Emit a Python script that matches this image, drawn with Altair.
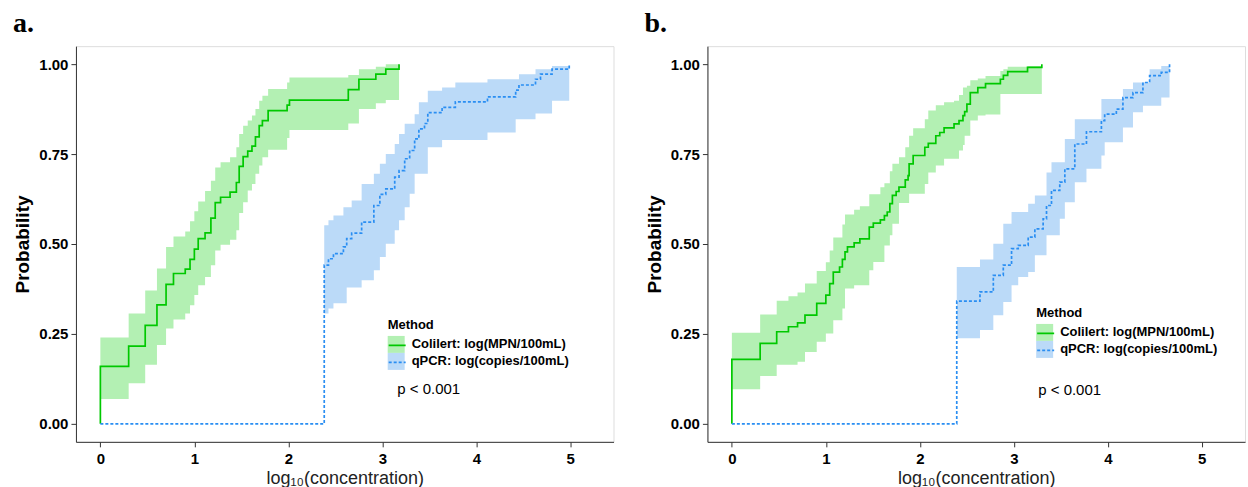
import altair as alt
import pandas as pd

M_COL = "Colilert: log(MPN/100mL)"
M_QPCR = "qPCR: log(copies/100mL)"

# ---------------- panel a ----------------
a_col_x = [0, 0.301, 0.477, 0.602, 0.699, 0.778, 0.903, 0.954, 1.0, 1.041, 1.114, 1.176, 1.222, 1.279, 1.38,
           1.447, 1.477, 1.519, 1.568, 1.613, 1.65, 1.69, 1.724, 1.785, 1.987, 2.012, 2.638, 2.751, 2.931, 3.037, 3.178]
a_col_est = [0.16, 0.216, 0.274, 0.331, 0.388, 0.418, 0.430, 0.457, 0.486, 0.515, 0.531, 0.572, 0.615, 0.630, 0.644,
             0.671, 0.716, 0.743, 0.758, 0.772, 0.798, 0.829, 0.843, 0.871, 0.886, 0.900, 0.929, 0.958, 0.972, 0.986, 1.0]
a_col_lo = [0.069, 0.113, 0.164, 0.219, 0.265, 0.290, 0.307, 0.330, 0.358, 0.385, 0.408, 0.441, 0.482, 0.498, 0.512,
            0.538, 0.586, 0.616, 0.649, 0.667, 0.695, 0.718, 0.741, 0.762, 0.795, 0.817, 0.835, 0.875, 0.891, 0.900, 0.900]
a_col_hi = [0.240, 0.307, 0.371, 0.432, 0.492, 0.521, 0.535, 0.563, 0.591, 0.618, 0.647, 0.676, 0.713, 0.727, 0.741,
            0.769, 0.806, 0.829, 0.843, 0.857, 0.875, 0.898, 0.912, 0.931, 0.949, 0.963, 0.970, 0.986, 0.993, 1.0, 1.0]

a_q_x = [2.382, 2.427, 2.480, 2.586, 2.621, 2.674, 2.780, 2.910, 2.974, 3.037, 3.132, 3.178, 3.238, 3.291, 3.344,
         3.389, 3.449, 3.484, 3.636, 3.777, 4.119, 4.419, 4.454, 4.630, 4.683, 4.806, 4.989]
a_q_est = [0.441, 0.459, 0.473, 0.492, 0.515, 0.530, 0.561, 0.607, 0.638, 0.653, 0.686, 0.704, 0.737, 0.760, 0.792,
           0.820, 0.835, 0.865, 0.880, 0.895, 0.909, 0.928, 0.942, 0.958, 0.972, 0.986, 1.0]
a_q_lo = [0.307, 0.321, 0.335, 0.335, 0.379, 0.379, 0.399, 0.427, 0.464, 0.501, 0.538, 0.566, 0.602, 0.640, 0.695,
          0.695, 0.695, 0.769, 0.789, 0.789, 0.810, 0.847, 0.847, 0.863, 0.863, 0.898, 0.898]
a_q_hi = [0.552, 0.566, 0.579, 0.602, 0.602, 0.621, 0.667, 0.695, 0.723, 0.750, 0.778, 0.806, 0.834, 0.834, 0.861,
          0.894, 0.894, 0.926, 0.935, 0.949, 0.958, 0.958, 0.972, 0.986, 0.986, 0.995, 0.995]

# ---------------- panel b ----------------
b_col_x = [0, 0.301, 0.477, 0.602, 0.699, 0.778, 0.903, 1.0, 1.041, 1.079, 1.146, 1.176, 1.204, 1.230, 1.301, 1.362,
           1.462, 1.505, 1.580, 1.623, 1.653, 1.681, 1.708, 1.748, 1.778, 1.845, 1.875, 1.886, 1.929, 2.053, 2.090,
           2.170, 2.212, 2.258, 2.364, 2.417, 2.459, 2.477, 2.501, 2.537, 2.617, 2.699, 2.857, 2.889, 2.935, 3.146, 3.298]
b_col_est = [0.179, 0.224, 0.256, 0.270, 0.281, 0.302, 0.335, 0.358, 0.390, 0.422, 0.436, 0.457, 0.478, 0.492, 0.503,
             0.514, 0.547, 0.558, 0.567, 0.579, 0.589, 0.612, 0.635, 0.646, 0.658, 0.678, 0.690, 0.723, 0.746, 0.769,
             0.780, 0.801, 0.810, 0.823, 0.834, 0.843, 0.857, 0.868, 0.889, 0.921, 0.935, 0.946, 0.958, 0.969, 0.979,
             0.991, 1.0]
b_col_lo = [0.096, 0.133, 0.164, 0.164, 0.173, 0.200, 0.228, 0.251, 0.251, 0.288, 0.288, 0.321, 0.376, 0.376, 0.385,
            0.385, 0.427, 0.450, 0.450, 0.496, 0.496, 0.524, 0.556, 0.556, 0.614, 0.614, 0.614, 0.640, 0.640, 0.667,
            0.699, 0.718, 0.718, 0.737, 0.737, 0.760, 0.775, 0.801, 0.801, 0.843, 0.857, 0.860, 0.917, 0.917, 0.917,
            0.917, 0.917]
b_col_hi = [0.253, 0.304, 0.342, 0.355, 0.365, 0.390, 0.425, 0.449, 0.482, 0.518, 0.518, 0.554, 0.582, 0.582, 0.595,
            0.605, 0.638, 0.638, 0.658, 0.669, 0.669, 0.702, 0.723, 0.723, 0.741, 0.769, 0.769, 0.801, 0.822, 0.847,
            0.871, 0.886, 0.886, 0.894, 0.898, 0.914, 0.935, 0.935, 0.940, 0.955, 0.960, 0.967, 0.981, 0.986, 0.993,
            0.995, 0.995]

b_q_x = [2.393, 2.640, 2.782, 2.888, 2.976, 3.047, 3.153, 3.224, 3.312, 3.348, 3.401, 3.489, 3.543, 3.649, 3.773,
         3.932, 3.967, 4.091, 4.161, 4.268, 4.374, 4.445, 4.569, 4.657]
b_q_est = [0.341, 0.367, 0.413, 0.441, 0.487, 0.496, 0.519, 0.542, 0.570, 0.607, 0.649, 0.672, 0.709, 0.778, 0.812,
           0.843, 0.861, 0.875, 0.907, 0.921, 0.949, 0.968, 0.977, 1.0]
b_q_lo = [0.238, 0.261, 0.302, 0.339, 0.385, 0.408, 0.422, 0.469, 0.469, 0.524, 0.524, 0.570, 0.616, 0.672, 0.709,
          0.746, 0.783, 0.783, 0.824, 0.866, 0.884, 0.884, 0.907, 0.907]
b_q_hi = [0.436, 0.457, 0.501, 0.556, 0.589, 0.589, 0.612, 0.635, 0.635, 0.699, 0.727, 0.727, 0.792, 0.847, 0.847,
          0.903, 0.903, 0.903, 0.931, 0.949, 0.949, 0.986, 0.995, 0.995]

p_label = "p < 0.001"
x_ticks = [0, 1, 2, 3, 4, 5]
y_ticks = [0, 0.25, 0.5, 0.75, 1.0]

LINE_COLORS = ["#00C800", "#2A8EF2"]
FILL_COLORS = ["#B3F0B3", "#BBDAF8"]
SANS = "Liberation Sans"


def line_df(cx, cest, qx, qest):
    rows = [{"x": 0.0, "est": 0.0, "method": M_COL}]
    rows += [{"x": a, "est": b, "method": M_COL} for a, b in zip(cx, cest)]
    rows += [{"x": 0.0, "est": 0.0, "method": M_QPCR}]
    rows += [{"x": a, "est": b, "method": M_QPCR} for a, b in zip(qx, qest)]
    return pd.DataFrame(rows)


def band_df(cx, clo, chi, qx, qlo, qhi):
    rows = [{"x": a, "lo": l, "hi": h, "method": M_COL} for a, l, h in zip(cx, clo, chi)]
    rows += [{"x": a, "lo": l, "hi": h, "method": M_QPCR} for a, l, h in zip(qx, qlo, qhi)]
    return pd.DataFrame(rows)


def panel(title, ldf, bdf, p_xy, leg_xy):
    xs = alt.Scale(domain=[-0.26, 5.46], nice=False, zero=False)
    ys = alt.Scale(domain=[-0.05, 1.05], nice=False, zero=False)
    xax = alt.Axis(values=x_ticks, format="d", title="log₁₀(concentration)", grid=False,
                   labelFont=SANS, labelFontSize=15, labelFontWeight="bold", labelColor="black",
                   titleFont=SANS, titleFontSize=18, titleFontWeight="normal", titleColor="#222222",
                   domainColor="#333333", tickColor="#333333", tickSize=5, labelPadding=5, titlePadding=3)
    yax = alt.Axis(values=y_ticks, format=".2f", title="Probability", grid=False,
                   labelFont=SANS, labelFontSize=15, labelFontWeight="bold", labelColor="black",
                   titleFont=SANS, titleFontSize=19, titleFontWeight="bold", titleColor="black",
                   domainColor="#333333", tickColor="#333333", tickSize=5, labelPadding=3, titlePadding=6)
    common_leg = dict(orient="none", legendX=leg_xy[0], legendY=leg_xy[1], title="Method",
                      titleFont=SANS, titleFontSize=13, titleFontWeight="bold", titleColor="black",
                      titlePadding=4, labelFont=SANS, labelFontSize=13, labelFontWeight="bold",
                      labelColor="black", symbolSize=289, rowPadding=0, labelOffset=7)
    band = alt.Chart(bdf).mark_area(interpolate="step-after", opacity=1).encode(
        x=alt.X("x:Q", scale=xs, axis=xax),
        y=alt.Y("lo:Q", scale=ys, axis=yax),
        y2="hi:Q",
        fill=alt.Fill("method:N", scale=alt.Scale(range=FILL_COLORS),
                      legend=alt.Legend(symbolType="square", symbolStrokeWidth=0, symbolOpacity=1,
                                        **common_leg)),
    )
    line = alt.Chart(ldf).mark_line(interpolate="step-after", strokeWidth=1.7).encode(
        x=alt.X("x:Q", scale=xs),
        y=alt.Y("est:Q", scale=ys),
        stroke=alt.Stroke("method:N", scale=alt.Scale(range=LINE_COLORS),
                          legend=alt.Legend(symbolType="stroke", symbolStrokeWidth=1.7,
                                            labelOpacity=0, titleOpacity=0, **common_leg)),
        strokeDash=alt.StrokeDash("method:N", scale=alt.Scale(range=[[1, 0], [3, 2]]), legend=None),
        order=alt.Order("method:N", sort="descending"),
    )
    ptxt = alt.Chart(pd.DataFrame({"x": [p_xy[0]], "y": [p_xy[1]], "t": [p_label]})).mark_text(
        align="left", baseline="middle", font=SANS, fontSize=15, color="black"
    ).encode(x=alt.X("x:Q", scale=xs), y=alt.Y("y:Q", scale=ys), text="t:N")
    return alt.layer(band, line, ptxt).properties(
        width=538, height=396,
        title=alt.TitleParams(text=title, anchor="start", frame="group", dx=-63, dy=26, offset=12,
                              baseline="alphabetic", font="Liberation Serif", fontSize=28,
                              fontWeight="bold", color="black"),
    ).resolve_scale(fill="independent", stroke="independent", strokeDash="independent")


panel_a = panel("a.", line_df(a_col_x, a_col_est, a_q_x, a_q_est),
                band_df(a_col_x, a_col_lo, a_col_hi, a_q_x, a_q_lo, a_q_hi),
                (3.16, 0.097), (312, 273))
panel_b = panel("b.", line_df(b_col_x, b_col_est, b_q_x, b_q_est),
                band_df(b_col_x, b_col_lo, b_col_hi, b_q_x, b_q_lo, b_q_hi),
                (3.26, 0.095), (329, 261))

chart = alt.hconcat(panel_a, panel_b, spacing=94, bounds="flush").resolve_scale(
    fill="independent", stroke="independent", strokeDash="independent"
).resolve_legend(
    fill="independent", stroke="independent", strokeDash="independent"
).properties(
    padding={"left": 12, "top": 9, "right": 2, "bottom": 0}
).configure_view(stroke=None).configure(background="white")

chart.save("out.html", embed_options={"renderer": "svg", "actions": False})
